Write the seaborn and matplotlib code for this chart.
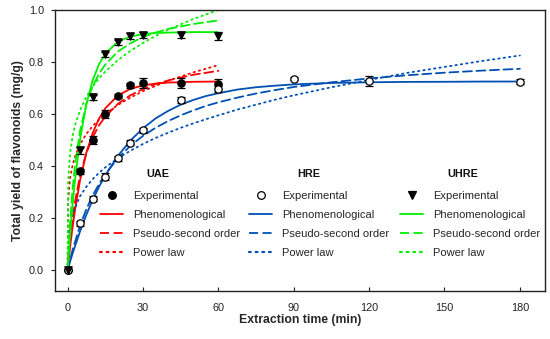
import numpy as np
import pandas as pd
import matplotlib
matplotlib.use("Agg")
import matplotlib.pyplot as plt
from matplotlib.lines import Line2D
import seaborn as sns

# ---------------- data ----------------
# experimental points
t_exp_fast = [0, 5, 10, 15, 20, 25, 30, 45, 60]
uae_exp = [0.0, 0.38, 0.50, 0.60, 0.67, 0.71, 0.72, 0.72, 0.715]
uae_err = [0.0, 0.010, 0.015, 0.015, 0.008, 0.008, 0.020, 0.020, 0.020]
uhre_exp = [0.0, 0.46, 0.665, 0.83, 0.875, 0.90, 0.905, 0.905, 0.90]
uhre_err = [0.0, 0.015, 0.010, 0.010, 0.010, 0.010, 0.012, 0.012, 0.015]
t_exp_hre = [0, 5, 10, 15, 20, 25, 30, 45, 60, 90, 120, 180]
hre_exp = [0.0, 0.18, 0.275, 0.36, 0.43, 0.49, 0.538, 0.655, 0.695, 0.735, 0.728, 0.725]
hre_err = [0.0, 0.010, 0.010, 0.012, 0.010, 0.010, 0.010, 0.012, 0.012, 0.006, 0.020, 0.010]

# fitted model curves
t_fit_fast = [0, 0.25, 1, 2, 3, 5, 7.5, 10, 12.5, 15, 20, 25, 30, 35, 40, 50, 60]
uae_phen = [0, 0.023, 0.088, 0.166, 0.234, 0.347, 0.452, 0.527, 0.582, 0.622, 0.671, 0.697, 0.710, 0.717, 0.721, 0.724, 0.725]
uae_pso = [0, 0.031, 0.112, 0.197, 0.265, 0.366, 0.451, 0.511, 0.556, 0.590, 0.639, 0.672, 0.696, 0.715, 0.729, 0.751, 0.766]
uae_pow = [0, 0.269, 0.353, 0.404, 0.438, 0.484, 0.524, 0.554, 0.579, 0.600, 0.635, 0.663, 0.688, 0.708, 0.728, 0.760, 0.788]
uhre_phen = [0, 0.036, 0.135, 0.251, 0.349, 0.504, 0.639, 0.730, 0.791, 0.832, 0.878, 0.898, 0.907, 0.912, 0.913, 0.915, 0.915]
uhre_pso = [0, 0.053, 0.184, 0.312, 0.407, 0.537, 0.639, 0.707, 0.755, 0.790, 0.840, 0.872, 0.896, 0.913, 0.927, 0.946, 0.960]
uhre_pow = [0, 0.343, 0.450, 0.515, 0.558, 0.616, 0.667, 0.705, 0.737, 0.763, 0.807, 0.843, 0.873, 0.900, 0.924, 0.965, 1.000]

t_fit_hre = [0, 0.5, 2, 5, 7.5, 10, 12.5, 15, 20, 25, 30, 35, 40, 45, 50, 55, 60,
             67.5, 75, 82.5, 90, 105, 120, 135, 150, 165, 180]
hre_phen = [0, 0.017, 0.064, 0.150, 0.214, 0.270, 0.320, 0.364, 0.439, 0.498, 0.545,
            0.583, 0.612, 0.636, 0.654, 0.669, 0.680, 0.694, 0.703, 0.709, 0.714,
            0.7195, 0.722, 0.7236, 0.724, 0.7249, 0.725]
hre_pso = [0, 0.021, 0.078, 0.172, 0.235, 0.287, 0.331, 0.369, 0.430, 0.478, 0.516,
           0.547, 0.573, 0.595, 0.614, 0.631, 0.645, 0.663, 0.679, 0.692, 0.704,
           0.722, 0.737, 0.749, 0.759, 0.767, 0.774]
hre_pow = [0, 0.144, 0.217, 0.285, 0.321, 0.350, 0.374, 0.395, 0.430, 0.459, 0.485,
           0.508, 0.528, 0.547, 0.564, 0.580, 0.595, 0.617, 0.636, 0.655, 0.672,
           0.703, 0.731, 0.758, 0.781, 0.804, 0.825]

x_ticks = [0, 30, 60, 90, 120, 150, 180]
y_ticks = [0.0, 0.2, 0.4, 0.6, 0.8, 1.0]
method_names = ["UAE", "HRE", "UHRE"]
model_labels = ["Experimental", "Phenomenological", "Pseudo-second order", "Power law"]

# ---------------- style ----------------
sns.set_theme(style="ticks")
plt.rcParams["font.family"] = ["Liberation Sans", "DejaVu Sans"]

RED = "#ff0000"
BLUE = "#0050b4"
GREEN = "#00f000"
DASH = (0, (5, 2.5))
DOT = (0, (0.8, 2.2))

W, H = 550, 339
fig = plt.figure(figsize=(W / 100, H / 100), dpi=100)
ax = fig.add_axes([0.1, 0.1416, 0.8909, 0.829])

curves = [
    (t_fit_fast, uae_phen, RED, "-"),
    (t_fit_fast, uae_pso, RED, DASH),
    (t_fit_fast, uae_pow, RED, DOT),
    (t_fit_hre, hre_phen, BLUE, "-"),
    (t_fit_hre, hre_pso, BLUE, DASH),
    (t_fit_hre, hre_pow, BLUE, DOT),
    (t_fit_fast, uhre_phen, GREEN, "-"),
    (t_fit_fast, uhre_pso, GREEN, DASH),
    (t_fit_fast, uhre_pow, GREEN, DOT),
]
for tx, yy, col, ls in curves:
    df = pd.DataFrame({"t": tx, "y": yy})
    sns.lineplot(data=df, x="t", y="y", ax=ax, color=col, linestyle=ls,
                 linewidth=1.3, errorbar=None, estimator=None, sort=False,
                 dash_capstyle="round", solid_capstyle="butt", zorder=2)

# experimental points with error bars
exp_sets = [
    (t_exp_fast, uae_exp, uae_err, "o", "black"),
    (t_exp_hre, hre_exp, hre_err, "o", "white"),
    (t_exp_fast, uhre_exp, uhre_err, "v", "black"),
]
for tx, yy, ee, mk, fc in exp_sets:
    ax.errorbar(tx, yy, yerr=ee, fmt="none", ecolor="black", elinewidth=0.9,
                capsize=3, capthick=0.9, zorder=3)
    df = pd.DataFrame({"t": tx, "y": yy})
    sns.scatterplot(data=df, x="t", y="y", ax=ax, marker=mk, s=28,
                    color=fc, edgecolor="black", linewidth=0.9, zorder=4)

ax.set_xlim(-5, 190)
ax.set_ylim(-0.08, 1.0)
ax.set_xticks(x_ticks)
ax.set_xticklabels([str(v) for v in x_ticks])
ax.set_yticks(y_ticks)
ax.set_yticklabels([f"{v:.1f}" for v in y_ticks])
ax.tick_params(axis="x", direction="in", length=3, width=0.8, labelsize=7.8,
               pad=9, colors="#222222")
ax.tick_params(axis="y", direction="out", length=3, width=0.8, labelsize=7.8,
               pad=5, colors="#222222")
for s in ax.spines.values():
    s.set_visible(True)
    s.set_linewidth(1.0)
    s.set_color("#222222")
ax.set_xlabel("Extraction time (min)", fontsize=8.8, fontweight="bold", labelpad=0.5)
ax.set_ylabel("Total yield of flavonoids (mg/g)", fontsize=8.8,
              fontweight="bold", labelpad=3.5)

# legends
def make_handles(col, mk, fc):
    return [
        Line2D([], [], linestyle="none", marker=mk, markersize=5.5,
               markerfacecolor=fc, markeredgecolor="black", markeredgewidth=0.9),
        Line2D([], [], color=col, linestyle="-", linewidth=1.3),
        Line2D([], [], color=col, linestyle=DASH, linewidth=1.3),
        Line2D([], [], color=col, linestyle=DOT, linewidth=1.6,
               dash_capstyle="round"),
    ]

leg_specs = [
    (method_names[0], RED, "o", "black", 100, 157.5),
    (method_names[1], BLUE, "o", "white", 249, 309),
    (method_names[2], GREEN, "v", "black", 400, 463),
]
legs = []
for name, col, mk, fc, xpix, title_x in leg_specs:
    fig.text(title_x / W, 1 - 174 / H, name, ha="center", va="center",
             fontsize=7.8, fontweight="bold", color="#111111")
    leg = ax.legend(make_handles(col, mk, fc), model_labels,
                    loc="upper left", bbox_to_anchor=(xpix / W, 1 - 191 / H),
                    bbox_transform=fig.transFigure, frameon=False,
                    fontsize=8, handlelength=2.1, handletextpad=0.9,
                    labelspacing=0.82, borderpad=0, borderaxespad=0)
    legs.append(leg)
for leg in legs[:-1]:
    ax.add_artist(leg)

fig.savefig("out.png", dpi=100)
